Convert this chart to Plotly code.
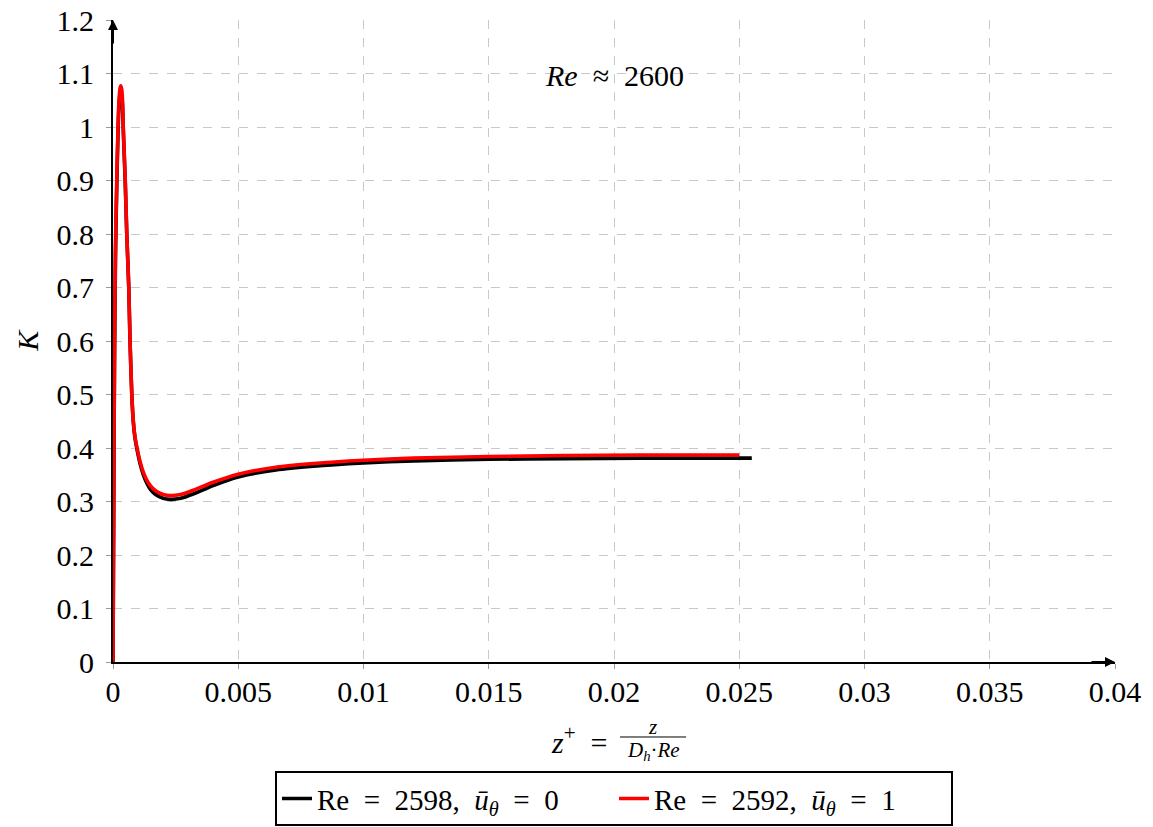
import plotly.graph_objects as go

# ---------------- data ----------------
x_ticks = [0, 0.005, 0.01, 0.015, 0.02, 0.025, 0.03, 0.035, 0.04]
x_ticklabels = ["0", "0.005", "0.01", "0.015", "0.02", "0.025", "0.03", "0.035", "0.04"]
y_ticks = [0, 0.1, 0.2, 0.3, 0.4, 0.5, 0.6, 0.7, 0.8, 0.9, 1.0, 1.1, 1.2]
y_ticklabels = ["0", "0.1", "0.2", "0.3", "0.4", "0.5", "0.6", "0.7", "0.8", "0.9", "1", "1.1", "1.2"]

z_black = [0, 0.00003, 0.00006, 0.0001, 0.00015, 0.0002, 0.00024, 0.00028, 0.00031, 0.00035,
           0.00038, 0.00041, 0.00045, 0.00049, 0.00055, 0.00063, 0.00068, 0.00075, 0.00081, 0.00088,
           0.00096, 0.00108, 0.00121, 0.00135, 0.0015, 0.0017, 0.002, 0.0023, 0.0027, 0.0032,
           0.004, 0.005, 0.0065, 0.008, 0.01, 0.012, 0.015, 0.018, 0.021, 0.025, 0.0255]
k_black = [0, 0.29, 0.56, 0.76, 0.89, 0.99, 1.04, 1.06, 1.065, 1.058,
           1.04, 0.995, 0.945, 0.895, 0.8, 0.7, 0.6, 0.5, 0.45, 0.418,
           0.397, 0.371, 0.35, 0.334, 0.322, 0.313, 0.306, 0.304, 0.306, 0.314,
           0.33, 0.346, 0.359, 0.366, 0.372, 0.376, 0.379, 0.38, 0.381, 0.381, 0.381]

z_red = [0, 0.00003, 0.00006, 0.0001, 0.00015, 0.0002, 0.00024, 0.00028, 0.00031, 0.00035,
         0.00038, 0.00041, 0.00045, 0.00049, 0.00055, 0.00063, 0.00068, 0.00075, 0.00081, 0.00088,
         0.00096, 0.00108, 0.00121, 0.00135, 0.0015, 0.0017, 0.002, 0.0023, 0.0027, 0.0032,
         0.004, 0.005, 0.0065, 0.008, 0.01, 0.012, 0.015, 0.018, 0.021, 0.025]
k_red = [0, 0.3, 0.58, 0.78, 0.9, 1.0, 1.05, 1.072, 1.077, 1.07,
         1.05, 1.0, 0.95, 0.9, 0.8, 0.7, 0.6, 0.5, 0.45, 0.42,
         0.4, 0.375, 0.355, 0.34, 0.329, 0.32, 0.313, 0.311, 0.313, 0.321,
         0.336, 0.351, 0.364, 0.371, 0.377, 0.381, 0.384, 0.386, 0.387, 0.387]

EQ = "\u2002=\u2002"
series_names = ["Re" + EQ + "2598,\u2002<i>ū</i><sub><i>θ</i></sub>" + EQ + "0",
                "Re" + EQ + "2592,\u2002<i>ū</i><sub><i>θ</i></sub>" + EQ + "1"]
series_colors = ["black", "red"]

FONT = "Liberation Serif"

fig = go.Figure()
for zs, ks, nm, col in [(z_black, k_black, series_names[0], series_colors[0]),
                        (z_red, k_red, series_names[1], series_colors[1])]:
    fig.add_trace(go.Scatter(x=zs, y=ks, mode="lines", name=nm,
                             line=dict(color=col, width=3.6, shape="spline", smoothing=0.6),
                             cliponaxis=False))

axis_common = dict(
    showgrid=True, gridcolor="#c8c8c8", gridwidth=1, griddash="dash",
    showline=True, linecolor="black", linewidth=2, zeroline=False,
    ticks="outside", ticklen=5, tickcolor="#999999", tickwidth=1,
    tickfont=dict(family=FONT, size=30, color="black"),
    layer="below traces", automargin=False,
)

fig.update_layout(
    width=1153, height=827,
    margin=dict(l=113, r=38, t=20, b=165, autoexpand=False),
    plot_bgcolor="white", paper_bgcolor="white",
    font=dict(family=FONT, size=30, color="black"),
    xaxis=dict(range=[0, 0.04], tickvals=x_ticks, ticktext=x_ticklabels,
               ticklabelstandoff=-3, **axis_common),
    yaxis=dict(range=[0, 1.2], tickvals=y_ticks, ticktext=y_ticklabels,
               ticklabelstandoff=6, **axis_common),
    showlegend=True,
    legend=dict(orientation="h", x=0.5, xanchor="center", xref="paper",
                y=0.001, yanchor="bottom", yref="container",
                bordercolor="black", borderwidth=2, bgcolor="white",
                font=dict(family=FONT, size=29, color="black"),
                itemwidth=30, entrywidth=292, entrywidthmode="pixels", tracegroupgap=0),
)

annotations = [
    dict(x=0.02, y=1.097, xref="x", yref="y", text="<i>Re</i>\u2002≈\u20022600", showarrow=False,
         xanchor="center", yanchor="middle", font=dict(family=FONT, size=30)),
    dict(x=-0.085, y=0.5016, xref="paper", yref="paper", text="<i>K</i>", textangle=-90,
         showarrow=False, xanchor="center", yanchor="middle", font=dict(family=FONT, size=30)),
    dict(x=0.495, y=-0.1215, xref="paper", yref="paper", text="<i>z</i><sup>+</sup>\u2002=",
         showarrow=False, xanchor="right", yanchor="middle", font=dict(family=FONT, size=30)),
    dict(x=0.538, y=-0.1012, xref="paper", yref="paper", text="<i>z</i>",
         showarrow=False, xanchor="center", yanchor="middle", font=dict(family=FONT, size=21)),
    dict(x=0.539, y=-0.1386, xref="paper", yref="paper",
         text="<i>D</i><sub><i>h</i></sub>·<i>Re</i>",
         showarrow=False, xanchor="center", yanchor="middle", font=dict(family=FONT, size=21)),
    # axis arrows
    dict(x=1, y=0, xref="paper", yref="paper", ax=-25, ay=0, axref="pixel", ayref="pixel",
         text="", showarrow=True, arrowhead=2, arrowsize=1, arrowwidth=2, arrowcolor="black",
         standoff=0),
    dict(x=0, y=1, xref="paper", yref="paper", ax=0, ay=25, axref="pixel", ayref="pixel",
         text="", showarrow=True, arrowhead=2, arrowsize=1, arrowwidth=2, arrowcolor="black",
         standoff=0),
]
fig.update_layout(annotations=annotations)
fig.add_shape(type="line", xref="paper", yref="paper", x0=0.506, x1=0.572,
              y0=-0.1168, y1=-0.1168, line=dict(color="black", width=1))

fig.write_html("out.html")
